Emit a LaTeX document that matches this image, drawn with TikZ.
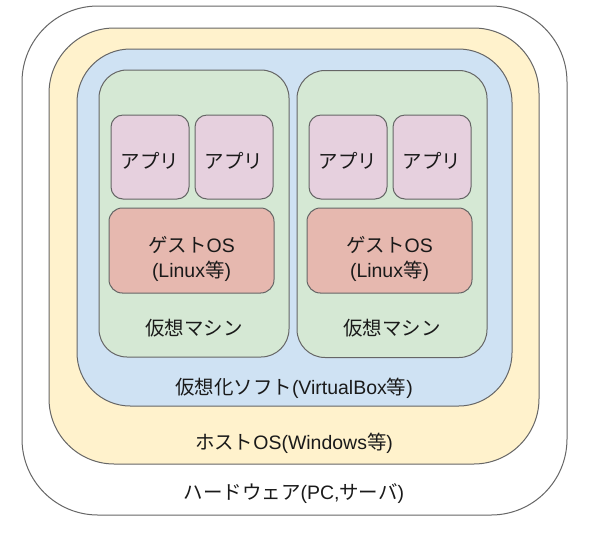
\documentclass[tikz,border=0pt]{standalone}
\usepackage{fontspec}
\setmainfont{Liberation Sans}
\newfontfamily\jp{Noto Sans CJK JP}
\definecolor{strokec}{HTML}{666666}
\definecolor{txtc}{HTML}{1A1A1A}
\definecolor{yellowf}{HTML}{FFF2CC}
\definecolor{bluef}{HTML}{CFE2F3}
\definecolor{greenf}{HTML}{D5E8D4}
\definecolor{pinkf}{HTML}{E6D0DE}
\definecolor{redf}{HTML}{E6B8AF}
\begin{document}
\begin{tikzpicture}[x=0.75pt,y=-0.75pt,
  box/.style={draw=strokec, line width=0.75pt, rounded corners=#1, inner sep=0pt, outer sep=0pt},
  lbl/.style={text=txtc, font=\fontsize{14.6pt}{18.8pt}\selectfont, align=center, inner sep=0pt}]
\useasboundingbox[fill=white] (0,0) rectangle (589,537);
% hardware
\node[box=57pt, fill=white, minimum width=0.75*545pt, minimum height=0.75*509pt] (hw) at (294.5,260.5) {};
% host OS
\node[box=49pt, fill=yellowf, minimum width=0.75*490pt, minimum height=0.75*436pt] (host) at (294,246) {};
% virtualization software
\node[box=40pt, fill=bluef, minimum width=0.75*435pt, minimum height=0.75*357pt] (vsw) at (294.5,227.5) {};
% VMs
\node[box=21pt, fill=greenf, minimum width=0.75*190pt, minimum height=0.75*287pt] (vm1) at (194,213.5) {};
\node[box=21pt, fill=greenf, minimum width=0.75*190pt, minimum height=0.75*287pt] (vm2) at (392,214) {};
% apps
\node[box=9pt, fill=pinkf, minimum width=0.75*78pt, minimum height=0.75*84pt] (app1) at (150,157) {};
\node[box=9pt, fill=pinkf, minimum width=0.75*78pt, minimum height=0.75*84pt] (app2) at (234,157) {};
\node[box=9pt, fill=pinkf, minimum width=0.75*78pt, minimum height=0.75*84pt] (app3) at (348,157) {};
\node[box=9pt, fill=pinkf, minimum width=0.75*78pt, minimum height=0.75*84pt] (app4) at (432,157) {};
% guest OS
\node[box=10pt, fill=redf, minimum width=0.75*165pt, minimum height=0.75*85pt] (gos1) at (191.5,250.5) {};
\node[box=10pt, fill=redf, minimum width=0.75*165pt, minimum height=0.75*85pt] (gos2) at (389.5,250.5) {};
% labels
\node[lbl] (t-app1) at (150,160.5) {\jp アプリ};
\node[lbl] (t-app2) at (234,160.5) {\jp アプリ};
\node[lbl] (t-app3) at (348,160.5) {\jp アプリ};
\node[lbl] (t-app4) at (432,160.5) {\jp アプリ};
\node[lbl] (t-gos1) at (191.5,259) {{\jp ゲスト}OS\\({Linux}{\jp 等})};
\node[lbl] (t-gos2) at (389.5,259) {{\jp ゲスト}OS\\({Linux}{\jp 等})};
\node[lbl] (t-vm1) at (194,328) {\jp 仮想マシン};
\node[lbl] (t-vm2) at (392,328) {\jp 仮想マシン};
\node[lbl] (t-vsw) at (294,388) {{\jp 仮想化ソフト}(VirtualBox{\jp 等})};
\node[lbl] (t-host) at (294,443) {{\jp ホスト}OS(Windows{\jp 等})};
\node[lbl] (t-hw) at (294,494) {{\jp ハードウェア}(PC,{\jp サーバ})};
\end{tikzpicture}
\end{document}
